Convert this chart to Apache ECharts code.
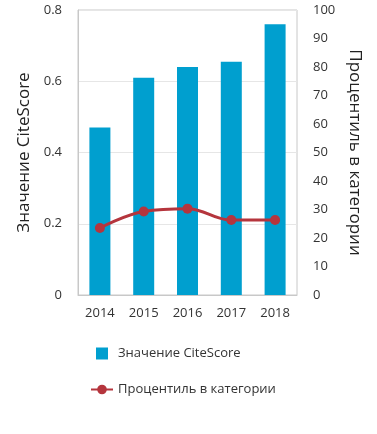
<!DOCTYPE html>
<html><head><meta charset="utf-8">
<script src="https://cdn.jsdelivr.net/npm/echarts@6/dist/echarts.min.js"></script>
<style>html,body{margin:0;padding:0;background:#fff}#c{width:377px;height:434px}</style>
</head><body><div id="c"></div>
<script>
const categories = ['2014','2015','2016','2017','2018'];
const citeScore = [0.47, 0.61, 0.64, 0.655, 0.76];
const percentile = [23.5, 29.3, 30.3, 26.3, 26.3];
const leftTicks = [0, 0.2, 0.4, 0.6, 0.8];
const rightTicks = [0,10,20,30,40,50,60,70,80,90,100];
const FONT = 'Open Sans';
const chart = echarts.init(document.getElementById('c'));
chart.setOption({
  animation: false,
  textStyle: {fontFamily: FONT},
  grid: {left: 78, right: 80, top: 10, bottom: 139, show: true, borderColor: '#c8c8c8', borderWidth: 1},
  legend: {
    orient: 'vertical', left: 85, top: 342, itemGap: 23, itemWidth: 22, itemHeight: 12,
    symbolKeepAspect: true,
    textStyle: {fontSize: 13, color: '#333', fontFamily: FONT},
    data: [{name: 'Значение CiteScore', icon: 'path://M0,0h10v10h-10z'}, {name: 'Процентиль в категории'}]
  },
  xAxis: {
    type: 'category', data: categories,
    axisLine: {lineStyle: {color: '#c8c8c8'}}, axisTick: {show: false},
    axisLabel: {color: '#333', fontSize: 13, margin: 12, fontFamily: FONT}
  },
  yAxis: [{
    type: 'value', min: 0, max: 0.8, interval: 0.2,
    name: 'Значение CiteScore', nameLocation: 'middle', nameGap: 37,
    nameTextStyle: {fontSize: 17, color: '#222', fontFamily: FONT},
    axisLine: {show: true, lineStyle: {color: '#c8c8c8'}}, axisTick: {show: false},
    axisLabel: {color: '#333', fontSize: 13, margin: 16, fontFamily: FONT,
      formatter: v => (v === 0 ? '0' : v.toFixed(1))},
    splitLine: {lineStyle: {color: '#e6e6e6'}}
  }, {
    type: 'value', min: 0, max: 100, interval: 10, position: 'right',
    name: 'Процентиль в категории', nameLocation: 'middle', nameGap: 46, nameRotate: -90,
    nameTextStyle: {fontSize: 17, color: '#222', fontFamily: FONT},
    axisLine: {show: false}, axisTick: {show: false},
    axisLabel: {color: '#333', fontSize: 13, margin: 16, fontFamily: FONT},
    splitLine: {show: false}
  }],
  series: [{
    name: 'Значение CiteScore', type: 'bar', data: citeScore, barWidth: 21,
    itemStyle: {color: '#009fcf'}
  }, {
    name: 'Процентиль в категории', type: 'line', yAxisIndex: 1, data: percentile,
    smooth: 0.4, symbol: 'circle', symbolSize: 10,
    lineStyle: {color: '#b5353d', width: 3}, itemStyle: {color: '#b5353d'}
  }]
});
</script></body></html>
